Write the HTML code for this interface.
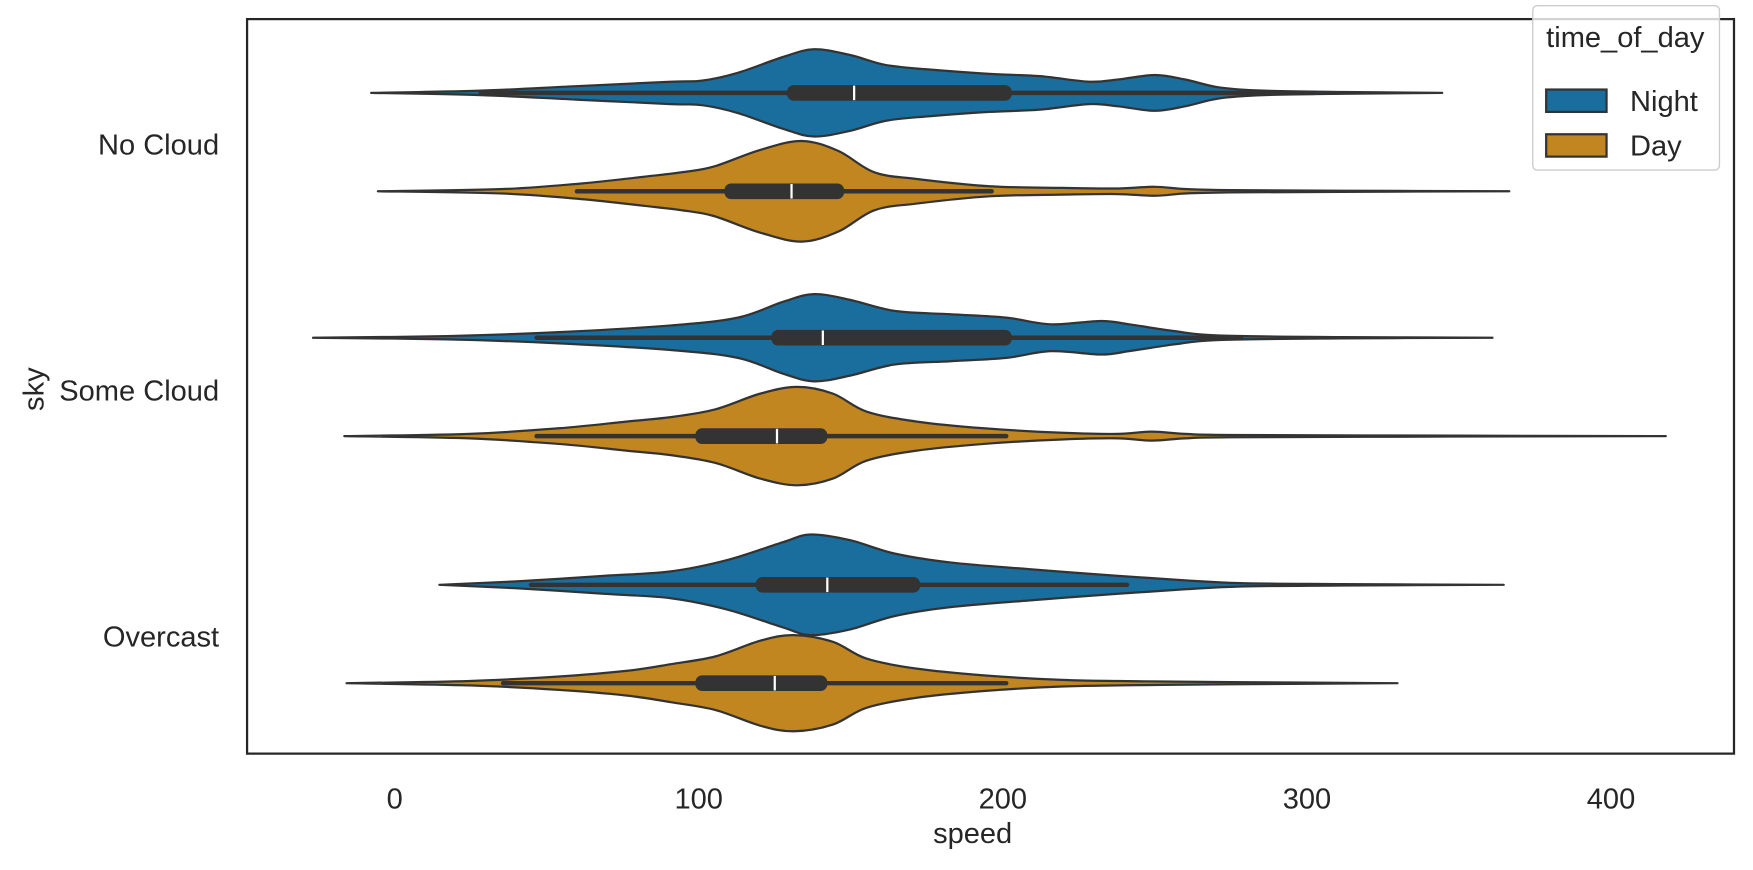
<!DOCTYPE html>
<html><head><meta charset="utf-8"><style>
html,body{margin:0;padding:0;background:#fff}
svg{display:block}
text{font-family:"Liberation Sans",sans-serif;fill:#262626}
</style></head><body>
<svg id="s" width="1753" height="870" viewBox="0 0 1568 778" xmlns="http://www.w3.org/2000/svg">
<rect x="0" y="0" width="1568" height="778" fill="#fff"/>
<g id="v"></g>
<rect x="221" y="17" width="1330" height="657" fill="none" stroke="#262626" stroke-width="2"/>
<g font-size="26" text-anchor="end">
<text x="196" y="138">No Cloud</text>
<text x="196" y="358">Some Cloud</text>
<text x="196" y="578">Overcast</text>
</g>
<text x="0" y="0" font-size="26" text-anchor="middle" transform="translate(39,348) rotate(-90)">sky</text>
<g font-size="26" text-anchor="middle">
<text x="353" y="723">0</text>
<text x="625" y="723">100</text>
<text x="897" y="723">200</text>
<text x="1169" y="723">300</text>
<text x="1441" y="723">400</text>
<text x="870" y="754">speed</text>
</g>
<rect x="1371" y="5" width="167" height="147" rx="4" fill="#fff" fill-opacity="0.8" stroke="#cccccc" stroke-width="1.2"/>
<text x="1383" y="42" font-size="26">time_of_day</text>
<rect x="1383" y="80" width="54" height="20" fill="#1a6e9e" stroke="#333" stroke-width="2"/>
<rect x="1383" y="120" width="54" height="20" fill="#c1861f" stroke="#333" stroke-width="2"/>
<text x="1458" y="99" font-size="26">Night</text>
<text x="1458" y="139" font-size="26">Day</text>
</svg>
<script>
var B="#1a6e9e",O="#c1861f";
var V=[
{c:83,col:B,p:[[332,0],[430,2],[515,6],[600,10],[628,11],[660,18],[700,32],[728,39],[760,34],[792,25],[830,21],[885,17],[930,15],[974,10],[1000,12],[1033,16],[1060,12],[1090,5],[1130,2],[1200,0.8],[1290,0]],b:[704,905],m:764,w:[430,1175]},
{c:171,col:O,p:[[338,0],[450,2],[520,7],[576,13],[610,17],[638,22],[680,37],[717,45],[750,36],[782,17],[820,11],[885,4.5],[950,3],[1000,2.5],[1033,4],[1060,2],[1100,1],[1200,0.5],[1350,0]],b:[648,755],m:708,w:[516,887]},
{c:302,col:B,p:[[280,0],[400,1.5],[500,5],[600,11],[660,18],[700,32],[728,39],[760,34],[800,24],[850,21],[900,18],[940,12],[985,15],[1010,12],[1050,6],[1090,2],[1200,0.6],[1335,0]],b:[690,905],m:736,w:[480,1110]},
{c:390,col:O,p:[[308,0],[420,2],[500,7],[560,13],[600,17],[640,24],[680,38],[713,44],[745,38],[775,22],[820,13],[880,7],[950,3],[1000,2],[1030,4],[1060,2],[1100,1],[1300,0.4],[1490,0]],b:[622,740],m:695,w:[480,900]},
{c:523,col:B,p:[[393,0],[460,3],[540,8],[600,12],[650,22],[700,38],[725,45],[760,40],[800,28],[850,20],[920,14],[1000,8],[1060,4],[1110,1.5],[1200,0.6],[1345,0]],b:[676,823],m:740,w:[475,1008]},
{c:611,col:O,p:[[310,0],[420,2],[500,6],[560,11],[600,17],[640,24],[680,38],[710,43],[745,37],[775,22],[820,13],[880,7],[950,3],[1000,2],[1040,1.5],[1100,1],[1250,0]],b:[622,740],m:693,w:[450,900]}
];
function cr(pts){var d="";for(var i=0;i<pts.length-1;i++){var p0=pts[Math.max(i-1,0)],p1=pts[i],p2=pts[i+1],p3=pts[Math.min(i+2,pts.length-1)];
var c1=[p1[0]+(p2[0]-p0[0])/6,p1[1]+(p2[1]-p0[1])/6],c2=[p2[0]-(p3[0]-p1[0])/6,p2[1]-(p3[1]-p1[1])/6];
d+=" C"+c1[0].toFixed(1)+","+c1[1].toFixed(1)+" "+c2[0].toFixed(1)+","+c2[1].toFixed(1)+" "+p2[0].toFixed(1)+","+p2[1].toFixed(1);}return d;}
var g=document.getElementById("v"),h="";
V.forEach(function(v){
var top=v.p.map(function(q){return[q[0],v.c-q[1]]});
var bot=v.p.slice().reverse().map(function(q){return[q[0],v.c+q[1]]});
var d="M"+top[0][0]+","+top[0][1]+cr(top)+" L"+bot[0][0]+","+bot[0][1]+cr(bot)+"Z";
h+='<path d="'+d+'" fill="'+v.col+'" stroke="#333" stroke-width="2" stroke-linejoin="round"/>';
h+='<line x1="'+v.w[0]+'" y1="'+v.c+'" x2="'+v.w[1]+'" y2="'+v.c+'" stroke="#333" stroke-width="4" stroke-linecap="round"/>';
h+='<rect x="'+v.b[0]+'" y="'+(v.c-7)+'" width="'+(v.b[1]-v.b[0])+'" height="14" rx="6" fill="#333"/>';
h+='<line x1="'+v.m+'" y1="'+(v.c-6.5)+'" x2="'+v.m+'" y2="'+(v.c+6.5)+'" stroke="#fff" stroke-width="2"/>';
});
g.innerHTML=h;
</script>
</body></html>
